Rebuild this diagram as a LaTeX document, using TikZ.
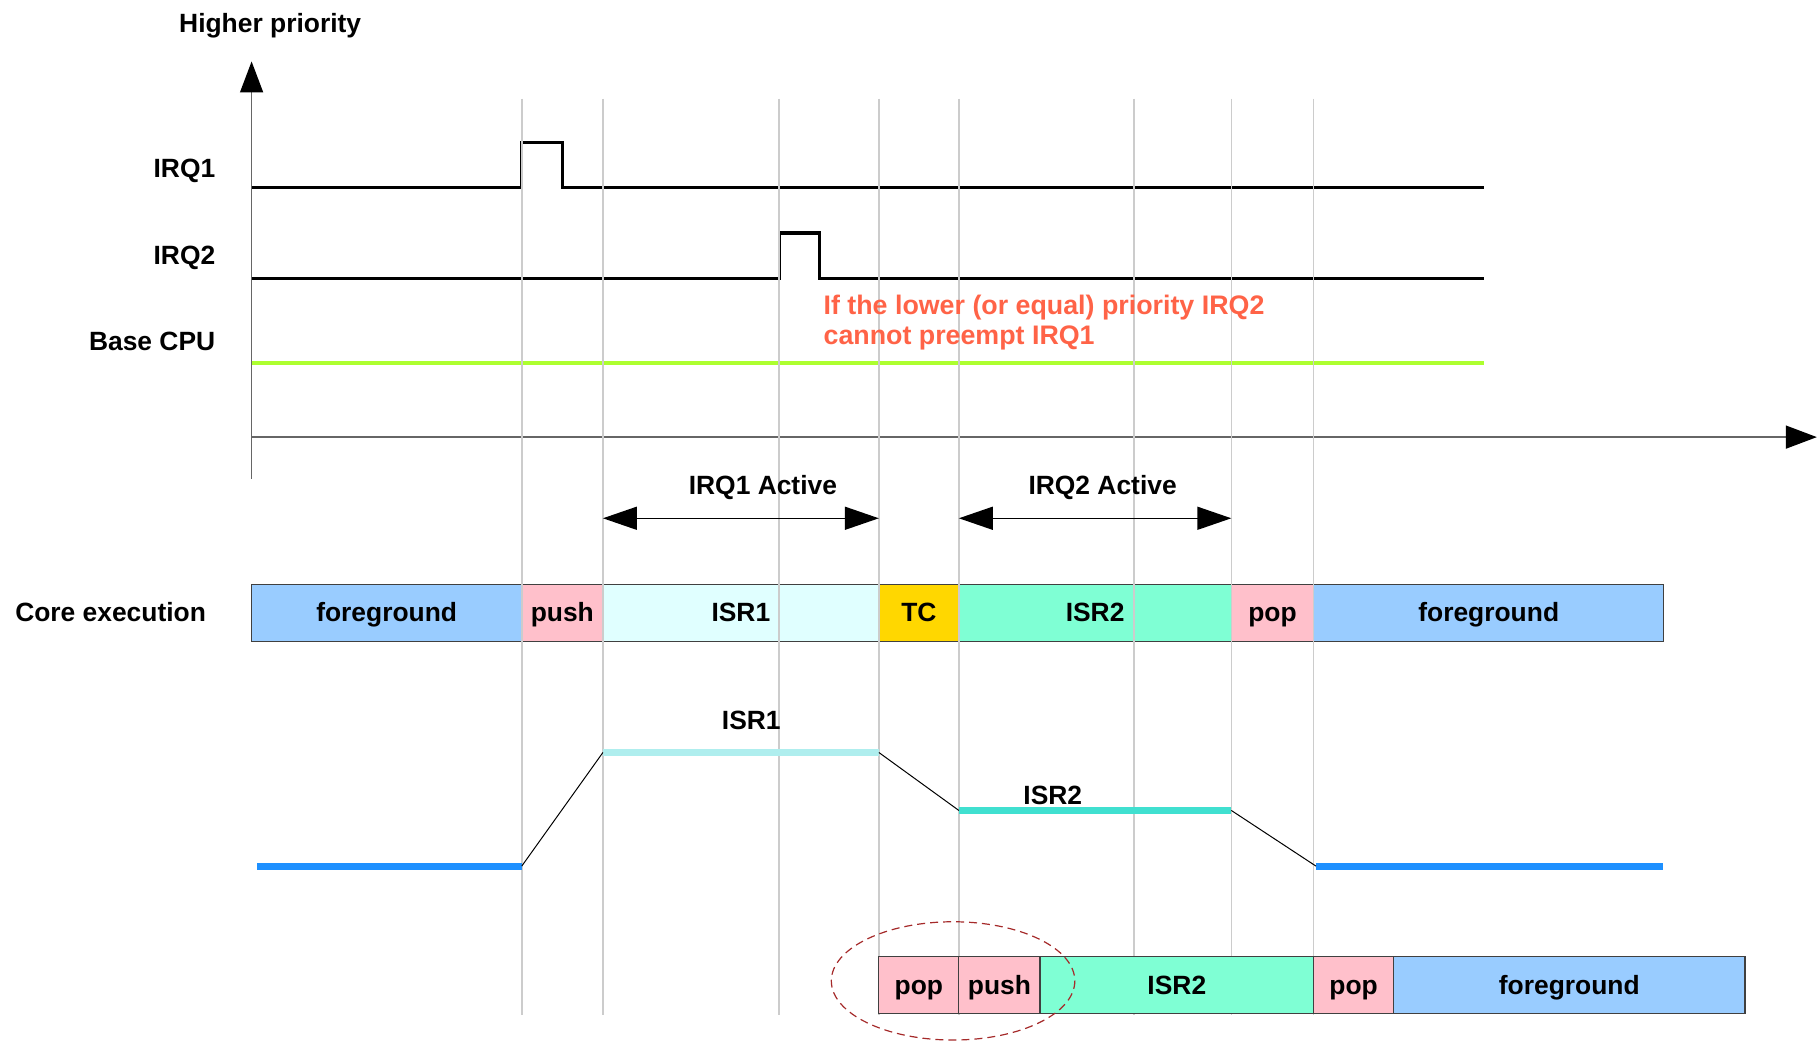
\documentclass[tikz,border=0pt]{standalone}
\usepackage{fontspec}
\setmainfont{Liberation Sans}
\usetikzlibrary{arrows.meta,positioning}
\definecolor{fgblue}{HTML}{99CCFF}
\definecolor{pushpink}{HTML}{FFC0CB}
\definecolor{isrone}{HTML}{E0FFFF}
\definecolor{tcgold}{HTML}{FFD700}
\definecolor{isrtwo}{HTML}{7FFFD4}
\definecolor{basegreen}{HTML}{ADFF2F}
\definecolor{notered}{HTML}{FF6347}
\definecolor{lvlblue}{HTML}{1E90FF}
\definecolor{lvlone}{HTML}{AFEEEE}
\definecolor{lvltwo}{HTML}{40E0D0}
\definecolor{ringred}{HTML}{A52A2A}
\tikzset{
  lbl/.style={font=\bfseries\fontsize{13.2}{15}\selectfont, text height=9.4pt, text depth=0pt, inner sep=0pt},
  box/.style={draw=black!75, line width=0.6pt},
  gridline/.style={draw=black!20, line width=0.75pt},
  axis/.style={draw=black!60, line width=0.75pt},
  sig/.style={line width=1.6pt, line join=miter},
  lvl/.style={line width=3.5pt},
  thin link/.style={line width=0.5pt},
  tip/.style={-{Triangle[length=15.5pt,width=11.5pt,color=black]}},
  span/.style={line width=0.75pt, {Triangle[length=17pt,width=11.5pt]}-{Triangle[length=17pt,width=11.5pt]}}
}
\begin{document}
\begin{tikzpicture}[x=0.5797pt,y=-0.5797pt]
\useasboundingbox (0,0) rectangle (1568,899);
% axes
\coordinate (O) at (217,377);
\coordinate (ytop) at (217,53);
\coordinate (xend) at (1567,377);
\draw[axis,tip] (217,413) -- (ytop);
\draw[axis,tip] (O) -- (xend);
\node[lbl] (hp) at (233,20) {Higher priority};

% signal rows
\node[lbl,anchor=east] (irq1) at (186,145) {IRQ1};
\node[lbl,anchor=east] (irq2) at (186,220) {IRQ2};
\node[lbl,anchor=east] (base) at (186,294) {Base CPU};
\draw[sig] (217,162) -- (450,162) -- (450,123) -- (485,123) -- (485,162) -- (1280,162);
\draw[sig] (217,240) -- (672,240) -- (672,201) -- (707,201) -- (707,240) -- (1280,240);
\draw[basegreen,line width=2pt] (217,313) -- (1280,313);

% core execution
\node[lbl,anchor=east] (core) at (178,528) {Core execution};
\foreach \a/\b/\c/\t [count=\i] in {217/450/fgblue/foreground, 450/520/pushpink/push,
  520/758/isrone/ISR1, 758/827/tcgold/TC, 827/1062/isrtwo/ISR2, 1062/1133/pushpink/pop,
  1133/1435/fgblue/foreground}
{
  \draw[box,fill=\c] (\a,504) rectangle (\b,553);
  \node[lbl] (core\i) at ({(\a+\b)/2},528) {\t};
}

% time marks
\foreach \x [count=\i] in {450,520,672,758,827,978,1062,1133}
{
  \coordinate (t\i) at (\x,85);
  \coordinate (b\i) at (\x,875);
  \draw[gridline] (t\i) -- (b\i);
}
\node[lbl,anchor=west,align=left,text=notered,text height=,text depth=,
  font=\bfseries\fontsize{13.4}{15.2}\selectfont] (note) at (710,278)
  {If the lower (or equal) priority IRQ2\\cannot preempt IRQ1};

% active spans
\coordinate (a1) at (520,447);
\coordinate (a2) at (758,447);
\coordinate (a3) at (827,447);
\coordinate (a4) at (1062,447);
\draw[span] (a1) -- (a2);
\draw[span] (a3) -- (a4);
\node[lbl] (act1) at (658,418) {IRQ1 Active};
\node[lbl] (act2) at (951,418) {IRQ2 Active};

% priority levels
\coordinate (p1) at (222,747);
\coordinate (p2) at (450,747);
\coordinate (p3) at (520,649);
\coordinate (p4) at (758,649);
\coordinate (p5) at (827,699);
\coordinate (p6) at (1062,699);
\coordinate (p7) at (1135,747);
\coordinate (p8) at (1434,747);
\draw[lvl,lvlblue] (p1) -- (p2);
\draw[lvl,lvlone] (p3) -- (p4);
\draw[lvl,lvltwo] (p5) -- (p6);
\draw[lvl,lvlblue] (p7) -- (p8);
\draw[thin link] (p2) -- (p3);
\draw[thin link] (p4) -- (p5);
\draw[thin link] (p6) -- (p7);
\node[lbl] (lvl1) at (648,621) {ISR1};
\node[lbl] (lvl2) at (908,686) {ISR2};

% tail chaining off
\foreach \a/\b/\c/\t [count=\i] in {758/827/pushpink/pop, 827/897/pushpink/push,
  897/1133/isrtwo/ISR2, 1133/1202/pushpink/pop, 1202/1505/fgblue/foreground}
{
  \draw[box,fill=\c] (\a,825) rectangle (\b,874);
  \node[lbl] (alt\i) at ({(\a+\b)/2},850) {\t};
}
\draw[ringred,line width=0.6pt,dash pattern=on 4pt off 2.5pt] (822,846) ellipse [x radius=105, y radius=51];
\end{tikzpicture}
\end{document}
